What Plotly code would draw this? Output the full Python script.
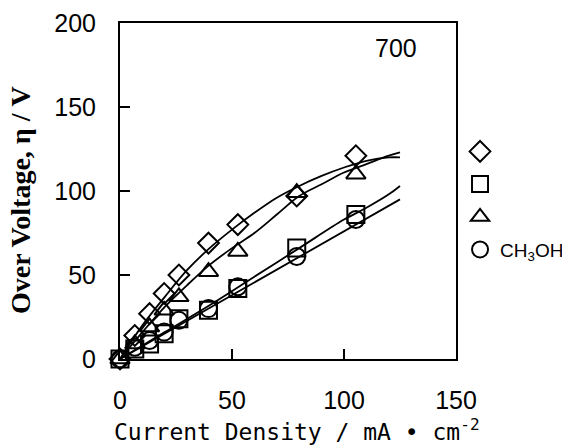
import plotly.graph_objects as go

# Current density (mA/cm2) at which each over-voltage was measured
current_density = [0, 6.6, 13.2, 19.7, 26.3, 39.5, 52.6, 78.9, 105.3]

# Measured over-voltage (V) for each fuel
ov_diamond = [0, 14, 27, 39, 50, 69, 80, 97, 121]
ov_square = [0, 6, 9, 15, 24, 29, 42, 66, 86]
ov_triangle = [0, 9, 19, 29, 37, 52, 64, 99, 110]
ov_methanol = [0, 7, 11, 16, 23, 30, 43, 61, 83]

# Fitted curves through each data set
fit_x = [0, 10, 20, 30, 40, 50, 60, 70, 80, 90, 100, 110, 120, 125]
fit_diamond = [0, 20, 37, 53, 66, 77, 87, 96, 103, 109, 114, 118, 120, 120]
fit_triangle = [0, 16, 31, 44, 56, 66, 75, 86, 97, 104, 111, 116, 121, 123]
fit_square_x = [0, 20, 40, 60, 80, 100, 110, 120, 125]
fit_square = [0, 16, 32, 49, 66, 83, 90, 98, 103]
fit_methanol_x = [0, 125]
fit_methanol = [0, 95]

x_ticks = [0, 50, 100, 150]
y_ticks = [0, 50, 100, 150, 200]

fig = go.Figure()

line_style = dict(color="black", width=1.8)
for fx, fy in [(fit_x, fit_diamond), (fit_x, fit_triangle),
               (fit_square_x, fit_square), (fit_methanol_x, fit_methanol)]:
    fig.add_trace(go.Scatter(x=fx, y=fy, mode="lines", line=line_style,
                             line_shape="spline", showlegend=False,
                             hoverinfo="skip", cliponaxis=False))

series = [
    (" ", ov_diamond, "diamond-open", 16),
    ("  ", ov_square, "square-open", 17),
    ("   ", ov_triangle, "triangle-up-open", 17),
    ("CH<sub>3</sub>OH", ov_methanol, "circle-open", 17),
]
for i, (name, vals, sym, size) in enumerate(series):
    fig.add_trace(go.Scatter(
        x=current_density, y=vals, mode="markers", name=name,
        legendgroup=f"g{i}",
        marker=dict(symbol=sym, size=size, color="black",
                    line=dict(color="black", width=2)),
        cliponaxis=False,
    ))

axis_common = dict(
    showline=True, linecolor="black", linewidth=2, mirror=True,
    ticks="inside", ticklen=10, tickwidth=2, tickcolor="black",
    showgrid=False, zeroline=False,
    tickfont=dict(family="Liberation Sans, Arial, sans-serif", size=25,
                  color="black"),
)

fig.update_xaxes(range=[0, 150], tickvals=x_ticks, ticklabelstandoff=18,
                 **axis_common)
fig.update_yaxes(range=[0, 200], tickvals=y_ticks, ticklabelstandoff=17,
                 **axis_common)

fig.add_annotation(x=123, y=185, xref="x", yref="y", text="700",
                   showarrow=False,
                   font=dict(family="Liberation Sans, Arial, sans-serif",
                             size=25, color="black"))

fig.add_annotation(x=297, y=430, xref="paper", yref="paper",
                   text="Current Density / mA • cm<sup>-2</sup>",
                   showarrow=False, xanchor="center", yanchor="middle",
                   font=dict(family="DejaVu Sans Mono, monospace", size=23,
                             color="black"))
fig.add_annotation(x=20, y=200, xref="paper", yref="paper",
                   text="<b>Over Voltage, η / V</b>", textangle=-90,
                   showarrow=False, xanchor="center", yanchor="middle",
                   font=dict(family="Liberation Serif, Times New Roman, serif",
                             size=28, color="black"))

W, H = 562, 445
L, R, T, B = 120, 106, 23, 86
pw, ph = W - L - R, H - T - B
# convert the pixel-placed axis-title annotations to paper coordinates
for ann in fig.layout.annotations[1:]:
    ann.x = (ann.x - L) / pw
    ann.y = (H - B - ann.y) / ph

fig.update_layout(
    width=W, height=H,
    margin=dict(l=L, r=R, t=T, b=B, pad=0, autoexpand=False),
    paper_bgcolor="white", plot_bgcolor="white",
    legend=dict(x=1.012, y=0.674, xanchor="left", yanchor="top",
                bgcolor="rgba(0,0,0,0)", borderwidth=0,
                tracegroupgap=5,
                font=dict(family="Liberation Sans Narrow, Liberation Sans, Arial, sans-serif",
                          size=19, color="black"),
                itemwidth=30),
)

fig.write_html("out.html")
